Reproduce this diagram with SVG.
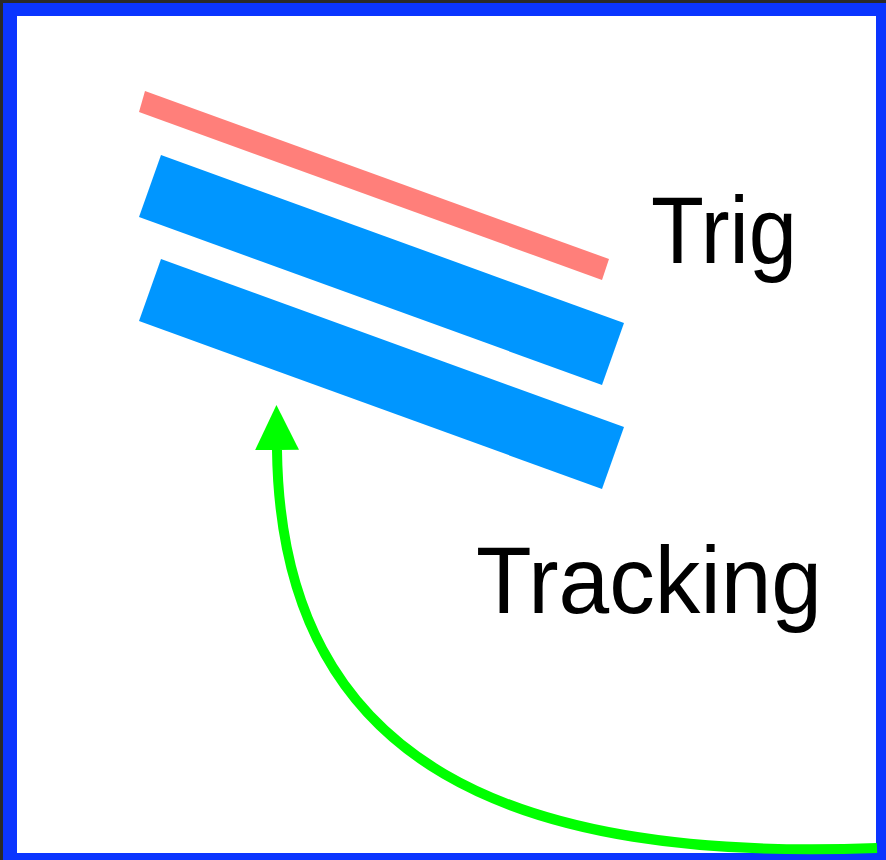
<svg xmlns="http://www.w3.org/2000/svg" width="886" height="860" viewBox="0 0 886 860">
  <style>
    .trig { fill: #FF7F7A; }
    .track { fill: #0096FF; }
    .label { font-family: "Liberation Sans", Arial, sans-serif; font-size: 95px; fill: #000000; }
    .flow { fill: none; stroke: #00FF00; stroke-width: 10; }
  </style>
  <defs>
    <marker id="arrowHead" markerUnits="userSpaceOnUse" markerWidth="50" markerHeight="50"
            viewBox="0 -25 50 50" refX="0" refY="0" orient="auto-start-reverse">
      <path d="M0,-22 L45,0 L0,22 z" fill="#00FF00"/>
    </marker>
  </defs>

  <!-- frame -->
  <rect x="0" y="0" width="886" height="860" fill="#2A2A2A"/>
  <rect x="3" y="3" width="883" height="857" fill="#0B35FF"/>
  <rect x="17" y="16" width="859" height="837" fill="#FFFFFF"/>

  <!-- trigger layer -->
  <g id="trig-layer">
    <polygon class="trig" points="145,91 609,259 602,280 139,112"/>
  </g>

  <!-- tracking layers -->
  <g id="tracking-layer-1">
    <polygon class="track" points="161,155 624,323 602,385 139,217"/>
  </g>
  <g id="tracking-layer-2">
    <polygon class="track" points="161,259 624,427 602,489 139,321"/>
  </g>

  <!-- labels -->
  <g id="trig-label">
    <text class="label" x="651" y="263" textLength="146" lengthAdjust="spacingAndGlyphs">Trig</text>
  </g>
  <g id="tracking-label">
    <text class="label" x="476" y="613" textLength="346" lengthAdjust="spacingAndGlyphs">Tracking</text>
  </g>

  <!-- connectors -->
  <g id="connectors">
    <path class="flow" d="M277,450 C281,770 520,862 877,848" marker-start="url(#arrowHead)"/>
  </g>
</svg>
